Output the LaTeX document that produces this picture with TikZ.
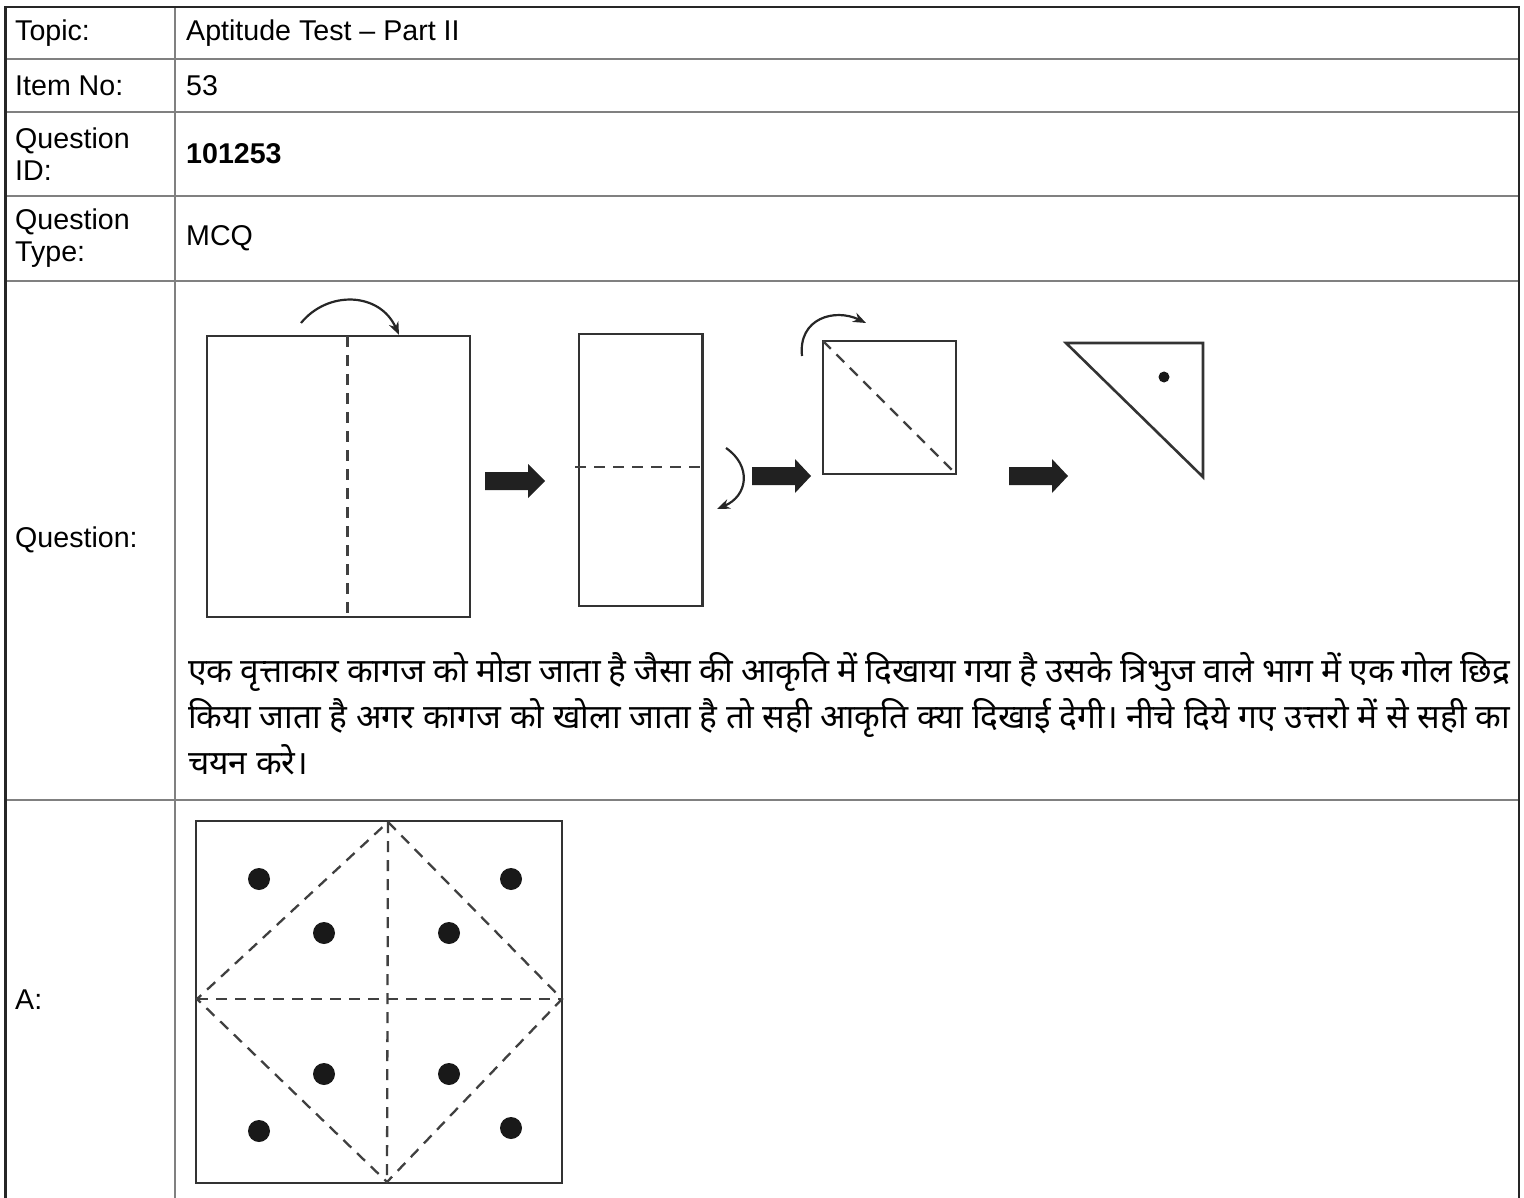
\documentclass[tikz,border=0pt]{standalone}
\usepackage{fontspec}
\setmainfont{Liberation Sans}
\newfontfamily\hindi[Script=Devanagari]{Noto Sans}
\usetikzlibrary{arrows.meta}

% block arrow: tail x, head start x, tip x, centre y
\newcommand{\blockarr}[4]{%
  \fill[blockarrow] (#1,#4-9) -- (#2,#4-9) -- (#2,#4-17) -- (#3,#4)
    -- (#2,#4+17) -- (#2,#4+9) -- (#1,#4+9) -- cycle;}

\begin{document}
\begin{tikzpicture}[
    x=1pt, y=-1pt,
    frame/.style     = {draw=black!85, line width=2.5pt},
    rule/.style      = {draw=black!50, line width=2pt},
    cellkey/.style   = {anchor=west, align=left, inner sep=0pt,
                        font=\fontsize{28.6}{32}\selectfont},
    hline/.style     = {anchor=base west, inner sep=0pt,
                        font=\hindi\fontsize{33.5}{40}\selectfont},
    paper/.style     = {draw=black!80, line width=2.6pt},
    crease/.style    = {draw=black!75, line width=2.3pt,
                        dash pattern=on 11pt off 8pt},
    hole/.style      = {fill=black!90},
    foldarrow/.style = {draw=black!85, line width=2.2pt,
                        -{Stealth[length=13pt, width=10pt]}},
    blockarrow/.style= {fill=black!87}
]
\useasboundingbox (0,0) rectangle (1524,1198);

% ========= table =========
\foreach \y in {59,112,196,281,800}
  \draw[rule] (5.5,\y) -- (1519,\y);
\draw[rule] (175,7) -- (175,1198);
\draw[frame] (5.5,1198) -- (5.5,7) -- (1519,7) -- (1519,1198);

\node[cellkey] (ktopic) at (15,33)    {Topic:};
\node[cellkey] (kitem)  at (15,85.5)  {Item No:};
\node[cellkey] (kid)    at (15,154)   {Question\\ID:};
\node[cellkey] (ktype)  at (15,238.5) {Question\\Type:};
\node[cellkey] (kques)  at (15,540)   {Question:};
\node[cellkey] (kans)   at (15,1000)  {A:};

\node[cellkey] (vtopic) at (186,33)    {Aptitude Test – Part II};
\node[cellkey] (vitem)  at (186,85.5)  {53};
\node[cellkey] (vid)    at (186,154)   {\textbf{101253}};
\node[cellkey] (vtype)  at (186,238.5) {MCQ};

% ========= folding steps =========
% step 1: full sheet, fold along the middle
\draw[paper] (207,336) rectangle (470,617);
\draw[crease] (347.5,336) -- (347.5,617);
\coordinate (f1s) at (301,323);
\coordinate (f1e) at (399,335);
\draw[foldarrow] (f1s) .. controls (328,290) and (380,292) .. (f1e);
\blockarr{485}{528}{545}{481}

% step 2: half sheet, fold across
\draw[paper] (579,334) rectangle (702.5,606);
\draw[crease] (575,467) -- (702.5,467);
\coordinate (f2s) at (726,448);
\coordinate (f2e) at (717,509);
\draw[foldarrow] (f2s) .. controls (752,466) and (748,496) .. (f2e);
\blockarr{752}{795}{811}{476}

% step 3: square, fold on the diagonal
\draw[paper] (823,341) rectangle (956,474);
\draw[crease] (823,341) -- (956,474);
\coordinate (f3s) at (802,356);
\coordinate (f3e) at (866,323);
\draw[foldarrow] (f3s) .. controls (798,318) and (835,308) .. (f3e);
\blockarr{1009}{1052}{1068}{476}

% step 4: triangle with the hole
\draw[paper, line join=miter] (1066,343) -- (1203,343) -- (1203,477) -- cycle;
\fill[hole] (1164,377) circle (5.5pt);

% ========= question text =========
\node[hline] (q1) at (188,682) {\makebox[1322pt][s]{एक वृत्ताकार कागज को मोडा जाता है जैसा की आकृति में दिखाया गया है उसके त्रिभुज वाले भाग में एक गोल छिद्र}};
\node[hline] (q2) at (188,728) {\makebox[1322pt][s]{किया जाता है अगर कागज को खोला जाता है तो सही आकृति क्या दिखाई देगी।  नीचे दिये गए उत्तरो में से सही का}};
\node[hline] (q3) at (188,774) {चयन करे।};

% ========= answer A =========
\draw[paper] (196,821) rectangle (562,1183);
\draw[crease] (388,822) -- (562,999) -- (387,1182) -- (197,999) -- cycle;
\draw[crease] (388,822) -- (387,1182);
\draw[crease] (197,999) -- (562,999);
\foreach \px/\py in {259/879, 511/879, 324/933, 449/933,
                     324/1074, 449/1074, 259/1131, 511/1128}
  \fill[hole] (\px,\py) circle (11pt);
\end{tikzpicture}
\end{document}
